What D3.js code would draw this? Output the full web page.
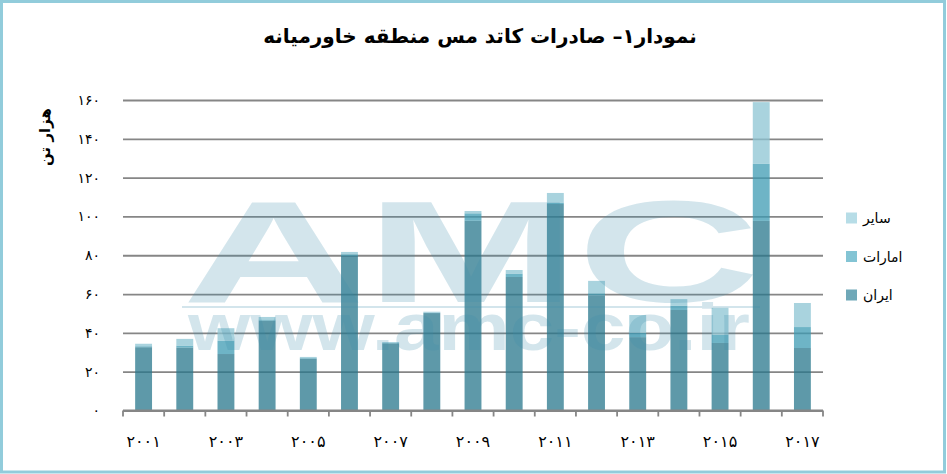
<!DOCTYPE html>
<html><head><meta charset="utf-8">
<script src="https://cdn.jsdelivr.net/npm/d3@7"></script>
<style>
html,body{margin:0;padding:0;background:#fff;}
svg{display:block;}
</style></head>
<body>
<svg id="chart" width="947" height="474"></svg>
<script>
// ---- data ----
const years = [2001,2002,2003,2004,2005,2006,2007,2008,2009,2010,2011,2012,2013,2014,2015,2016,2017];
const iran  = [32.6,32.4,29.1,46.3,26.7,79.6,34.6,50.2,97.8,68.8,106.4,59.2,37.8,51.8,34.8,97.7,32.2];
const uae   = [0.5,1.0,6.9,0.6,0.3,0.9,0.2,0.2,3.8,1.7,0.7,1.2,2.2,2.2,4.3,29.4,10.8];
const other = [1.3,3.5,6.4,1.3,0.6,1.2,0.5,0.5,1.2,1.9,5.0,6.4,9.2,3.4,13.8,31.8,12.4];
const seriesKeys = ["iran","uae","other"];
const seriesNames = ["ایران","امارات","سایر"];
const yTicks = [0,20,40,60,80,100,120,140,160];
const titleText = "نمودار۱– صادرات کاتد مس منطقه خاورمیانه";
const yTitle = "هزار تن";

const barColors = {iran:"#27768b", uae:"#3d9ab2", other:"#8bc4d3"};
const legendColors = {iran:"#6fa8b8", uae:"#83c4d4", other:"#b7dde7"};

const fa = n => String(n).replace(/[0-9]/g, d => "۰۱۲۳۴۵۶۷۸۹"[+d]);

const svg = d3.select("#chart");
const FONT = "'DejaVu Sans', sans-serif";

// border
svg.append("rect").attr("x",1.5).attr("y",1.5).attr("width",943).attr("height",470.5)
  .attr("fill","#fff").attr("stroke","#92ccdb").attr("stroke-width",3);

const x = d3.scaleBand().domain(years).range([123,823]).padding(0);
const y = d3.scaleLinear().domain([0,160]).range([410.5,100]);
const bw = x.bandwidth()*0.41;

// gridlines + y labels
const yAxis = d3.axisLeft(y).tickValues(yTicks).tickSize(-700).tickPadding(23).tickFormat(fa);
const gy = svg.append("g").attr("transform","translate(123,0)").call(yAxis);
gy.select(".domain").remove();
gy.selectAll(".tick line").attr("stroke","#868686").attr("stroke-width",1.8);
gy.selectAll(".tick text").attr("font-family",FONT).attr("font-size",14).attr("fill","#000");

// shadow filter
const defs = svg.append("defs");
const f = defs.append("filter").attr("id","sh").attr("x","-30%").attr("y","-10%").attr("width","160%").attr("height","120%");
f.append("feDropShadow").attr("dx",1.5).attr("dy",0).attr("stdDeviation",1.5).attr("flood-color","#000").attr("flood-opacity",0.18);

// stacked bars
const table = years.map((yr,i)=>({year:yr, iran:iran[i], uae:uae[i], other:other[i]}));
const stacked = d3.stack().keys(seriesKeys)(table);
const gb = svg.append("g");
gb.selectAll("rect.sh").data(table).join("rect").attr("class","sh")
  .attr("x",d=>x(d.year)+(x.bandwidth()-bw)/2)
  .attr("y",d=>y(d.iran+d.uae+d.other))
  .attr("width",bw)
  .attr("height",d=>y(0)-y(d.iran+d.uae+d.other))
  .attr("fill","#fff").attr("fill-opacity",0.01).attr("filter","url(#sh)");
stacked.forEach(s=>{
  gb.append("g").selectAll("rect").data(s).join("rect")
    .attr("x",d=>x(d.data.year)+(x.bandwidth()-bw)/2)
    .attr("y",d=>y(d[1]))
    .attr("width",bw)
    .attr("height",d=>y(d[0])-y(d[1]))
    .attr("fill",barColors[s.key]).attr("fill-opacity",0.744);
});

// x axis line + ticks
const gx = svg.append("g");
gx.append("line").attr("x1",123).attr("x2",823).attr("y1",y(0)).attr("y2",y(0))
  .attr("stroke","#868686").attr("stroke-width",1.8);
const edges = years.map(d=>x(d)).concat([x(years[years.length-1])+x.bandwidth()]);
gx.selectAll("line.t").data(edges).join("line").attr("class","t")
  .attr("x1",d=>d).attr("x2",d=>d).attr("y1",y(0)).attr("y2",y(0)+6)
  .attr("stroke","#868686").attr("stroke-width",1.8);
gx.selectAll("text").data(years.filter((d,i)=>i%2===0)).join("text")
  .attr("x",d=>x(d)+x.bandwidth()/2).attr("y",447)
  .attr("text-anchor","middle").attr("font-family",FONT).attr("font-size",16).attr("fill","#000")
  .text(d=>fa(d));

// watermark (overlay) - one text element with two lines
const wm = svg.append("g").attr("opacity",0.22).attr("fill","#3c8caa");
wm.append("rect").attr("x",182).attr("y",306).attr("width",578).attr("height",2);
const wt = wm.append("text")
  .attr("font-family","'Liberation Sans', Arial, sans-serif").attr("font-weight","bold");
wt.append("tspan").attr("x",182).attr("y",302).attr("font-size",144)
  .attr("textLength",578).attr("lengthAdjust","spacingAndGlyphs").text("AMC");
wt.append("tspan").attr("x",188).attr("y",350).attr("font-size",67)
  .attr("textLength",562).attr("lengthAdjust","spacingAndGlyphs").text("www.amc-co.ir");

// title
svg.append("text").attr("x",480).attr("y",43).attr("text-anchor","middle")
  .attr("direction","rtl").style("unicode-bidi","embed")
  .attr("font-family",FONT).attr("font-weight","bold").attr("font-size",20).attr("fill","#000")
  .text(titleText);

// y title
svg.append("text").attr("transform","translate(50,137) rotate(-90)").attr("text-anchor","middle")
  .attr("direction","rtl").style("unicode-bidi","embed")
  .attr("font-family",FONT).attr("font-weight","bold").attr("font-size",15).attr("fill","#000")
  .text(yTitle);

// legend (top to bottom: سایر, امارات, ایران)
const legOrder = [2,1,0];
const lg = svg.append("g");
legOrder.forEach((k,i)=>{
  const cy = 218 + i*38.5;
  lg.append("rect").attr("x",846).attr("y",cy-5.5).attr("width",11).attr("height",11)
    .attr("fill",legendColors[seriesKeys[k]]);
  lg.append("text").attr("x",863).attr("y",cy+5).attr("font-family",FONT).attr("font-size",14)
    .attr("fill","#000").text(seriesNames[k]);
});
</script>
</body></html>
